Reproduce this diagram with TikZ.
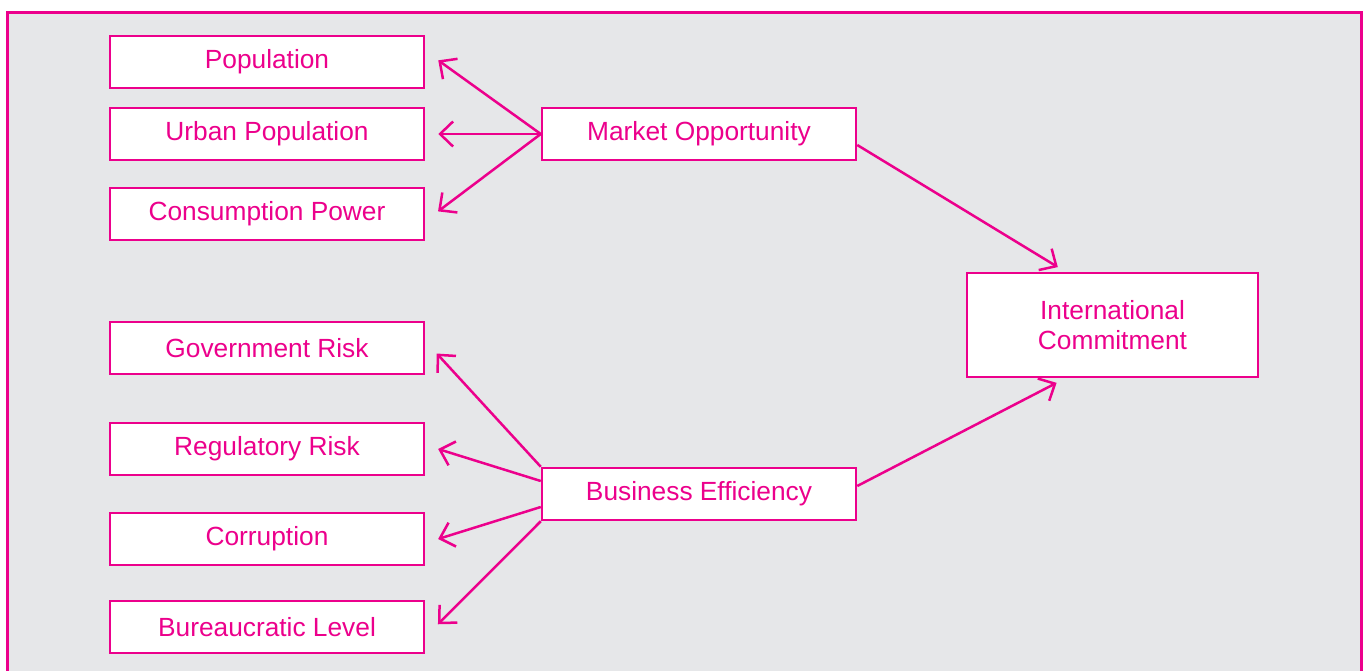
\documentclass[tikz,border=0pt]{standalone}
\usepackage{fontspec}
\setmainfont{Liberation Sans}
\usetikzlibrary{arrows.meta,positioning,calc}
\definecolor{pinkline}{RGB}{236,0,140}
\definecolor{panelgray}{RGB}{230,231,233}

\begin{document}
\begin{tikzpicture}[x=1pt,y=-1pt]
  \tikzset{factor/.style={draw=pinkline,fill=white,line width=2.5pt,text=pinkline,
      minimum width=314pt,minimum height=52pt,inner sep=0pt,
      font=\fontsize{26.3}{30}\selectfont},
    link/.style={draw=pinkline,line width=2.5pt,shorten >=13pt,
      -{Straight Barb[length=13pt,width=25pt]}}}
  \useasboundingbox (0,0) rectangle (1366,671);
  \path[fill=panelgray,draw=pinkline,line width=3pt] (7,13) rectangle (1361,690);
  % market side
  \node[factor] (pop) at (267,62) {Population};
  \node[factor] (urban) at (267,134) {Urban Population};
  \node[factor] (cons) at (267,214) {Consumption Power};
  \node[factor] (mo) at (699,134) {Market Opportunity};
  % business side
  \node[factor] (gov) at (267,348) {Government Risk};
  \node[factor] (reg) at (267,449) {Regulatory Risk};
  \node[factor] (corr) at (267,539) {Corruption};
  \node[factor] (bur) at (267,627) {Bureaucratic Level};
  \node[factor] (be) at (699,494) {Business Efficiency};
  % outcome
  \node[factor,minimum width=291pt,minimum height=104pt,align=center] (ic) at (1112.5,325)
    {International\\Commitment};
  \draw[link,shorten >=16pt] (mo.west) -- ([yshift=11pt]pop.east);
  \draw[link] (mo.west) -- (urban.east);
  \draw[link,shorten >=16pt] (mo.west) -- ([yshift=-7pt]cons.east);
  \draw[link,shorten >=17pt] (be.north west) -- ([yshift=7pt]gov.east);
  \draw[link,shorten >=13.5pt] ([yshift=13pt]be.west) -- ([yshift=4pt]reg.east);
  \draw[link,shorten >=13.5pt] ([yshift=-13pt]be.west) -- ([yshift=-4pt]corr.east);
  \draw[link,shorten >=18pt] (be.south west) -- ([yshift=-10pt]bur.east);
  \draw[link,shorten >=9pt] ([yshift=-11pt]mo.east) -- ([xshift=-47pt]ic.north);
  \draw[link,shorten >=10pt] ([yshift=8pt]be.east) -- ([xshift=-47pt]ic.south);
\end{tikzpicture}
\end{document}
